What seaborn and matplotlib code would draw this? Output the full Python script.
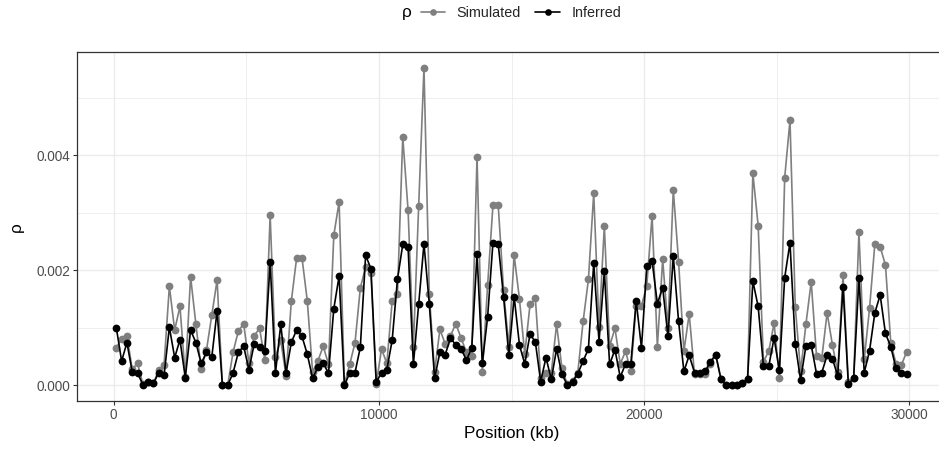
import numpy as np
import pandas as pd
import matplotlib
matplotlib.use("Agg")
import matplotlib.pyplot as plt
import seaborn as sns
from matplotlib.lines import Line2D

position_kb = np.arange(100, 30000, 200)

simulated = [
    0.00065, 0.00081, 0.00086, 0.00028, 0.00038, 0.00002, 0.00005, 0.00003, 0.00027, 0.00035,
    0.00172, 0.00096, 0.00137, 0.00015, 0.00189, 0.00106, 0.00028, 0.00061, 0.00122, 0.00183,
    0.00000, 0.00000, 0.00057, 0.00094, 0.00107, 0.00039, 0.00086, 0.00099, 0.00044, 0.00296,
    0.00049, 0.00078, 0.00016, 0.00147, 0.00222, 0.00222, 0.00147, 0.00023, 0.00042, 0.00068,
    0.00036, 0.00261, 0.00319, 0.00002, 0.00036, 0.00074, 0.00169, 0.00206, 0.00196, 0.00002,
    0.00063, 0.00038, 0.00146, 0.00158, 0.00432, 0.00305, 0.00066, 0.00312, 0.00552, 0.00159,
    0.00023, 0.00097, 0.00072, 0.00086, 0.00107, 0.00082, 0.00057, 0.00051, 0.00398, 0.00023,
    0.00174, 0.00313, 0.00313, 0.00166, 0.00067, 0.00226, 0.00150, 0.00054, 0.00141, 0.00151,
    0.00013, 0.00021, 0.00021, 0.00106, 0.00030, 0.00002, 0.00007, 0.00022, 0.00111, 0.00184,
    0.00334, 0.00101, 0.00277, 0.00068, 0.00099, 0.00037, 0.00059, 0.00024, 0.00138, 0.00138,
    0.00173, 0.00295, 0.00067, 0.00219, 0.00099, 0.00340, 0.00215, 0.00059, 0.00124, 0.00019,
    0.00019, 0.00019, 0.00037, 0.00053, 0.00010, 0.00001, 0.00000, 0.00001, 0.00003, 0.00010,
    0.00369, 0.00278, 0.00041, 0.00059, 0.00108, 0.00012, 0.00361, 0.00461, 0.00136, 0.00024,
    0.00106, 0.00180, 0.00051, 0.00047, 0.00126, 0.00070, 0.00023, 0.00191, 0.00006, 0.00012,
    0.00266, 0.00045, 0.00134, 0.00246, 0.00241, 0.00209, 0.00074, 0.00037, 0.00035, 0.00058,
]

inferred = [
    0.00100, 0.00042, 0.00074, 0.00023, 0.00021, 0.00001, 0.00005, 0.00003, 0.00022, 0.00017,
    0.00101, 0.00048, 0.00079, 0.00013, 0.00096, 0.00074, 0.00038, 0.00057, 0.00049, 0.00129,
    0.00000, 0.00000, 0.00021, 0.00057, 0.00068, 0.00027, 0.00072, 0.00067, 0.00060, 0.00214,
    0.00021, 0.00106, 0.00021, 0.00075, 0.00096, 0.00085, 0.00054, 0.00012, 0.00031, 0.00038,
    0.00021, 0.00133, 0.00190, 0.00000, 0.00021, 0.00022, 0.00066, 0.00226, 0.00203, 0.00005,
    0.00022, 0.00027, 0.00078, 0.00184, 0.00245, 0.00241, 0.00036, 0.00141, 0.00246, 0.00142,
    0.00012, 0.00057, 0.00053, 0.00082, 0.00070, 0.00063, 0.00044, 0.00064, 0.00228, 0.00038,
    0.00119, 0.00248, 0.00246, 0.00154, 0.00052, 0.00154, 0.00070, 0.00037, 0.00089, 0.00075,
    0.00006, 0.00048, 0.00010, 0.00063, 0.00019, 0.00001, 0.00006, 0.00020, 0.00042, 0.00063,
    0.00213, 0.00076, 0.00198, 0.00036, 0.00062, 0.00014, 0.00037, 0.00037, 0.00147, 0.00065,
    0.00207, 0.00217, 0.00142, 0.00170, 0.00085, 0.00225, 0.00111, 0.00024, 0.00052, 0.00022,
    0.00022, 0.00024, 0.00041, 0.00053, 0.00010, 0.00001, 0.00000, 0.00001, 0.00003, 0.00010,
    0.00181, 0.00137, 0.00033, 0.00033, 0.00082, 0.00026, 0.00187, 0.00248, 0.00071, 0.00009,
    0.00068, 0.00070, 0.00020, 0.00022, 0.00052, 0.00046, 0.00016, 0.00171, 0.00002, 0.00012,
    0.00186, 0.00022, 0.00060, 0.00126, 0.00157, 0.00090, 0.00067, 0.00029, 0.00022, 0.00019,
]

series_names = ["Simulated", "Inferred"]
series_colors = {"Simulated": "#7f7f7f", "Inferred": "#000000"}

x_ticks = [0, 10000, 20000, 30000]
x_tick_labels = ["0", "10000", "20000", "30000"]
y_ticks = [0.000, 0.002, 0.004]
y_tick_labels = ["0.000", "0.002", "0.004"]

df = pd.DataFrame({
    "pos": np.concatenate([position_kb, position_kb]),
    "rho": simulated + inferred,
    "series": ["Simulated"] * len(simulated) + ["Inferred"] * len(inferred),
})

sns.set_theme(style="white")
plt.rcParams["font.family"] = ["Liberation Sans", "DejaVu Sans"]

W, H = 939, 451
fig = plt.figure(figsize=(W / 100, H / 100), dpi=100)
left_px, right_px, top_px, bottom_px = 76.8, 946.2, 52.3, 401.0
ax = fig.add_axes([left_px / W, 1 - bottom_px / H, (right_px - left_px) / W, (bottom_px - top_px) / H])
ax.set_facecolor("white")

sns.lineplot(data=df, x="pos", y="rho", hue="series", hue_order=series_names,
             palette=series_colors, marker="o", markersize=5.6, markeredgewidth=0,
             linewidth=1.2, ax=ax, legend=False, estimator=None, sort=False, zorder=3)

ax.set_xlim(-1390, 31390)
ax.set_ylim(-0.000276, 0.005796)

ax.set_xticks(x_ticks)
ax.set_xticklabels(x_tick_labels)
ax.set_yticks(y_ticks)
ax.set_yticklabels(y_tick_labels)
ax.set_xticks([5000, 15000, 25000], minor=True)
ax.set_yticks([0.001, 0.003, 0.005], minor=True)

ax.grid(which="major", color="#ebebeb", linewidth=1.0, zorder=0)
ax.grid(which="minor", color="#ebebeb", linewidth=0.55, zorder=0)
ax.set_axisbelow(True)

for s in ax.spines.values():
    s.set_color("#333333")
    s.set_linewidth(0.9)

ax.tick_params(axis="both", which="major", length=2.8, width=0.8, color="#333333",
               labelcolor="#4d4d4d", labelsize=9.8, pad=2.0, bottom=True, left=True)
ax.tick_params(axis="both", which="minor", length=0)

ax.set_xlabel("Position (kb)", fontsize=12.3, color="black", labelpad=3)
ax.set_ylabel("ρ", fontsize=12.3, color="black", labelpad=9)

# legend at top
fig.text(407 / W, 1 - 13 / H, "ρ", ha="center", va="center", fontsize=12.3, color="black")
handles = [Line2D([0], [0], color=series_colors[n], marker="o", markersize=4.8,
                  markeredgewidth=0, linewidth=1.2) for n in series_names]
leg = fig.legend(handles, series_names, loc="center", bbox_to_anchor=(521 / W, 1 - 13 / H),
                 ncol=2, frameon=False, fontsize=10.4, handlelength=1.7, handletextpad=0.8,
                 columnspacing=1.0, borderaxespad=0, borderpad=0)

fig.savefig("out.png", dpi=100)
